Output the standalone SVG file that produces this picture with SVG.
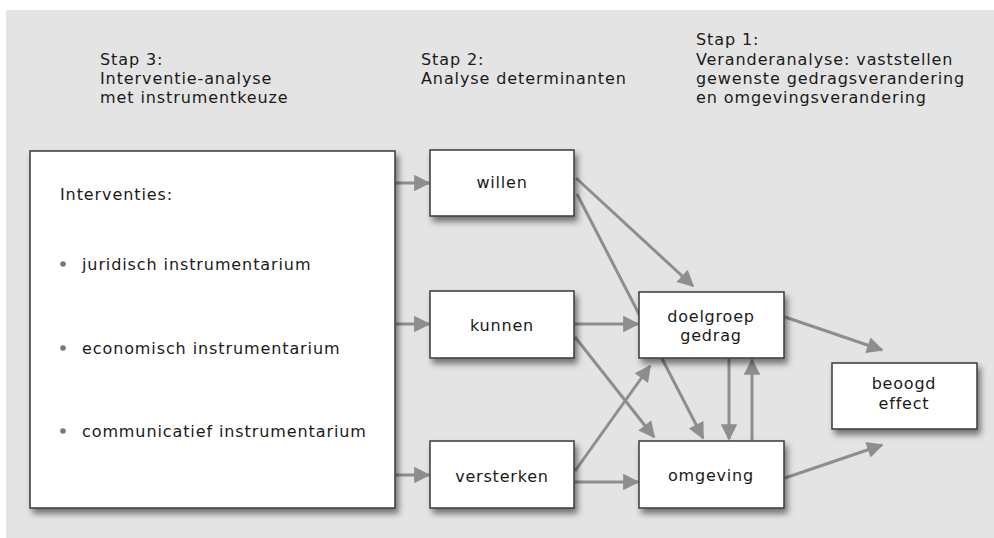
<svg xmlns="http://www.w3.org/2000/svg" width="994" height="538" viewBox="0 0 994 538">
<style>
text{font-family:"DejaVu Sans","Liberation Sans",sans-serif;fill:#1a1a1a}
.h{font-size:16px;letter-spacing:0.9px}
.n{font-size:16px;letter-spacing:0.8px;text-anchor:middle}
.l{font-size:16px;letter-spacing:0.9px}
.box{fill:#fff;stroke:#3a3a3a;stroke-width:1.5;filter:url(#sh)}
.c{stroke:#8e8e8e;stroke-width:3;fill:none;marker-end:url(#ah)}
</style>
<defs>
<filter id="sh" x="-20%" y="-20%" width="140%" height="150%">
<feDropShadow dx="3" dy="5" stdDeviation="3" flood-color="#000" flood-opacity="0.5"/>
</filter>
<marker id="ah" viewBox="0 0 10 10" refX="9" refY="5" markerWidth="6.5" markerHeight="5.5" markerUnits="strokeWidth" orient="auto">
<path d="M0,0 L10,5 L0,10 z" fill="#8e8e8e"/>
</marker>
</defs>
<rect x="0" y="0" width="994" height="538" fill="#fff"/>
<rect x="6" y="10" width="988" height="528" fill="#e4e4e4"/>

<g id="headings">
<text class="h" x="100" y="65">Stap 3:</text>
<text class="h" x="100" y="84">Interventie-analyse</text>
<text class="h" x="100" y="103">met instrumentkeuze</text>
<text class="h" x="421" y="65">Stap 2:</text>
<text class="h" x="421" y="84">Analyse determinanten</text>
<text class="h" x="696" y="45">Stap 1:</text>
<text class="h" x="696" y="65">Veranderanalyse: vaststellen</text>
<text class="h" x="696" y="84">gewenste gedragsverandering</text>
<text class="h" x="696" y="103">en omgevingsverandering</text>
</g>

<g id="connectors">
<line class="c" x1="396" y1="183" x2="429" y2="183"/>
<line class="c" x1="396" y1="324" x2="429" y2="324"/>
<line class="c" x1="396" y1="475" x2="429" y2="475"/>
<line class="c" x1="576" y1="178" x2="693" y2="286"/>
<line class="c" x1="577" y1="194" x2="703" y2="438"/>
<line class="c" x1="575" y1="324" x2="638" y2="324"/>
<line class="c" x1="575" y1="337" x2="654" y2="437"/>
<line class="c" x1="575" y1="471" x2="650" y2="366"/>
<line class="c" x1="575" y1="482" x2="638" y2="482"/>
<line class="c" x1="729" y1="359" x2="729" y2="439"/>
<line class="c" x1="752" y1="440" x2="752" y2="360"/>
<line class="c" x1="785" y1="317" x2="882" y2="350"/>
<line class="c" x1="785" y1="478" x2="882" y2="445"/>
</g>

<g id="interventies">
<rect class="box" x="30" y="151" width="365" height="357"/>
<text class="l" x="60" y="200">Interventies:</text>
<circle cx="63" cy="264" r="2.8" fill="#777"/>
<text class="l" x="82" y="270">juridisch instrumentarium</text>
<circle cx="63" cy="348" r="2.8" fill="#777"/>
<text class="l" x="82" y="354">economisch instrumentarium</text>
<circle cx="63" cy="431" r="2.8" fill="#777"/>
<text class="l" x="82" y="437">communicatief instrumentarium</text>
</g>

<g id="willen">
<rect class="box" x="430" y="150" width="144" height="66"/>
<text class="n" x="502" y="188">willen</text>
</g>
<g id="kunnen">
<rect class="box" x="430" y="291" width="144" height="67"/>
<text class="n" x="502" y="331">kunnen</text>
</g>
<g id="versterken">
<rect class="box" x="430" y="441" width="144" height="67"/>
<text class="n" x="502" y="482">versterken</text>
</g>
<g id="doelgroep-gedrag">
<rect class="box" x="639" y="292" width="145" height="66"/>
<text class="n" x="711" y="322">doelgroep</text>
<text class="n" x="711" y="341">gedrag</text>
</g>
<g id="omgeving">
<rect class="box" x="639" y="441" width="145" height="67"/>
<text class="n" x="711" y="481">omgeving</text>
</g>
<g id="beoogd-effect">
<rect class="box" x="832" y="363" width="145" height="66"/>
<text class="n" x="904" y="389">beoogd</text>
<text class="n" x="904" y="409">effect</text>
</g>
</svg>
